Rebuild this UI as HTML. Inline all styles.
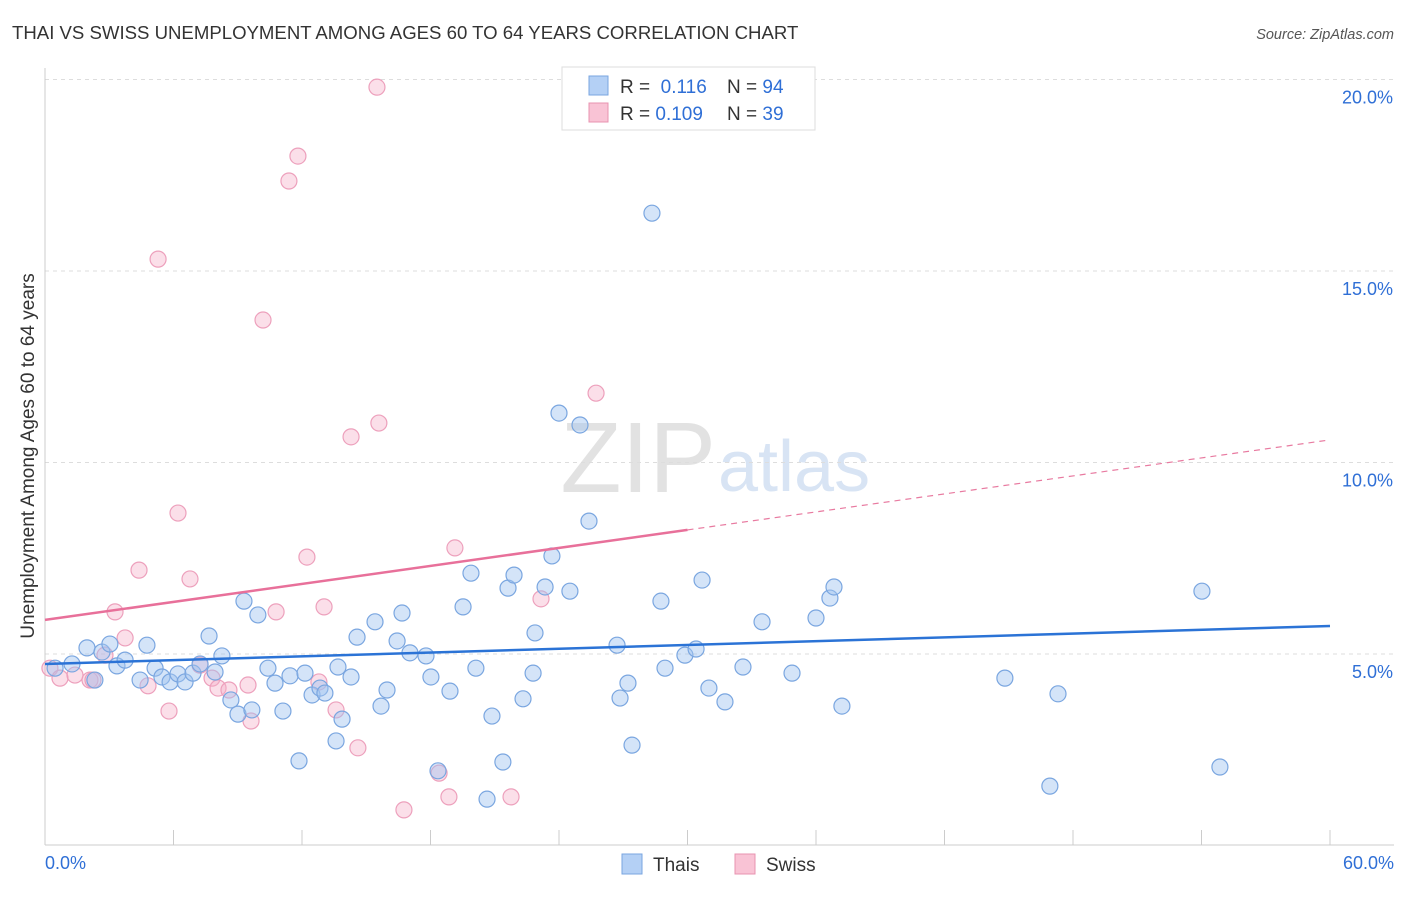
<!DOCTYPE html>
<html><head><meta charset="utf-8">
<style>
body{margin:0;background:#fff;font-family:"Liberation Sans",sans-serif;}
svg text{font-family:"Liberation Sans",sans-serif;}
</style></head>
<body>
<svg id="chart" width="1406" height="892">
<text x="12" y="39" font-size="18.6" fill="#333">THAI VS SWISS UNEMPLOYMENT AMONG AGES 60 TO 64 YEARS CORRELATION CHART</text>
<text x="1394" y="39" font-size="14.5" fill="#555" font-style="italic" text-anchor="end">Source: ZipAtlas.com</text>
<text x="716" y="492" font-size="100" fill="#e2e2e2" text-anchor="end" font-family="Liberation Serif">ZIP</text>
<text x="718" y="491" font-size="72" fill="#d8e4f4">atlas</text>
<g id="grid"></g>
<g id="axes"></g>
<g id="marks"></g>
<text transform="translate(34,456) rotate(-90)" font-size="19" fill="#333" text-anchor="middle">Unemployment Among Ages 60 to 64 years</text>
<g>
<rect x="562" y="67" width="253" height="63" fill="#fff" stroke="#ddd"/>
<rect x="589" y="76" width="19" height="19" fill="#b4d0f5" stroke="#7aa6e0"/>
<rect x="589" y="103" width="19" height="19" fill="#f9c3d5" stroke="#e893b0"/>
<text x="620" y="93" font-size="19" fill="#333">R = <tspan fill="#2f6fd6">&#160;0.116</tspan><tspan x="727">N = </tspan><tspan fill="#2f6fd6">94</tspan></text>
<text x="620" y="120" font-size="19" fill="#333">R = <tspan fill="#2f6fd6">0.109</tspan><tspan x="727">N = </tspan><tspan fill="#2f6fd6">39</tspan></text>
</g>
<g>
<rect x="622" y="854" width="20" height="20" fill="#b4d0f5" stroke="#7aa6e0"/>
<text x="653" y="871" font-size="19" fill="#333">Thais</text>
<rect x="735" y="854" width="20" height="20" fill="#f9c3d5" stroke="#e893b0"/>
<text x="766" y="871" font-size="19" fill="#333">Swiss</text>
</g>
</svg>
<script>
const yTicks=[5,10,15,20];
const yTickLabels=["5.0%","10.0%","15.0%","20.0%"];
const xTicks=[0,6,12,18,24,30,36,42,48,54,60];
const thaisX=[0.47,1.26,1.96,2.33,2.66,3.03,3.36,3.74,4.44,4.76,5.14,5.46,5.84,6.21,6.54,6.91,7.24,7.66,7.94,8.26,8.68,9.01,9.29,9.66,9.94,10.41,10.74,11.11,11.44,11.86,12.14,12.47,12.84,13.07,13.68,13.87,13.59,14.29,14.57,15.41,15.69,15.97,16.44,16.67,17.04,17.79,18.02,18.91,19.52,19.89,20.12,20.87,21.38,20.64,21.62,21.90,22.32,22.79,22.88,23.35,23.67,24.00,24.51,24.98,25.40,26.71,26.85,27.22,27.41,28.34,28.76,28.95,29.88,30.40,30.68,31.00,31.75,32.59,33.48,34.88,36.00,36.65,36.84,37.21,44.82,46.92,47.30,54.02,54.86,18.35];
const thaisY=[4.63,4.74,5.16,4.32,5.05,5.26,4.69,4.84,4.32,5.23,4.63,4.40,4.27,4.48,4.27,4.50,4.74,5.47,4.53,4.95,3.80,3.43,6.38,3.54,6.02,4.63,4.24,3.51,4.43,2.21,4.50,3.93,4.11,3.98,4.66,3.30,2.73,4.40,5.44,5.84,3.64,4.06,5.34,6.07,5.03,4.95,4.40,4.03,6.23,7.11,4.63,3.38,2.18,1.21,6.72,7.06,3.83,4.50,5.55,6.75,7.56,11.29,6.64,10.98,8.47,5.23,3.85,4.24,2.62,16.51,6.38,4.63,4.97,5.13,6.93,4.11,3.75,4.66,5.84,4.50,5.94,6.46,6.75,3.64,4.37,1.55,3.96,6.64,2.05,1.95];
const swissX=[0.23,0.70,1.40,2.10,2.80,3.27,3.74,4.39,4.81,5.28,5.79,6.21,6.77,7.24,7.80,8.08,8.59,9.48,9.62,10.18,10.79,11.39,11.81,12.23,12.79,13.03,13.59,14.29,14.61,15.50,15.59,16.76,18.40,18.86,19.14,21.76,23.16,25.73,2.24];
const swissY=[4.63,4.37,4.45,4.32,4.97,6.10,5.42,7.19,4.17,15.31,3.51,8.68,6.96,4.71,4.37,4.11,4.06,4.19,3.25,13.72,6.10,17.35,18.00,7.53,4.27,6.23,3.54,10.67,2.55,19.80,11.03,0.93,1.89,1.27,7.77,1.27,6.44,11.81,4.32];
const thaisTrend=[4.74,5.73];
const swissTrend=[5.89,10.59];
const swissSolidEnd=30;

const NS="http://www.w3.org/2000/svg";
const X=v=>45+v*(1285/60);
const Y=v=>845.5-v*38.3;
function mk(tag,attrs,parent){const e=document.createElementNS(NS,tag);for(const k in attrs)e.setAttribute(k,attrs[k]);parent.appendChild(e);return e;}
const grid=document.getElementById('grid'),axes=document.getElementById('axes'),marks=document.getElementById('marks');
yTicks.forEach((t,i)=>{
 const l=mk('line',{x1:45,x2:1394,y1:Y(t),y2:Y(t),stroke:'#ddd','stroke-dasharray':'4,4'},grid);
 
 
 const tx=mk('text',{x:1393,y:Y(t)+24,'font-size':18,fill:'#2f6fd6','text-anchor':'end'},axes);
 tx.textContent=yTickLabels[i];
 
 
});
const ax=mk('line',{x1:45,x2:1394,y1:845,y2:845,stroke:'#ccc'},axes);


const ay=mk('line',{x1:45,x2:45,y1:68,y2:845,stroke:'#ccc'},axes);


xTicks.forEach(t=>{
 const l=mk('line',{x1:X(t),x2:X(t),y1:830,y2:845,stroke:'#ccc'},axes);
 
 
});
const xl0=mk('text',{x:45,y:869,'font-size':18,fill:'#2f6fd6'},axes);xl0.textContent='0.0%';


const xl1=mk('text',{x:1394,y:869,'font-size':18,fill:'#2f6fd6','text-anchor':'end'},axes);xl1.textContent='60.0%';



swissX.forEach((x,i)=>{
 const c=mk('circle',{cx:X(x),cy:Y(swissY[i]),r:8,fill:'rgba(246,176,200,0.4)',stroke:'#eda0bc','stroke-width':1.2},marks);
 
 
});
thaisX.forEach((x,i)=>{
 const c=mk('circle',{cx:X(x),cy:Y(thaisY[i]),r:8,fill:'rgba(160,196,240,0.45)',stroke:'#7aa6e0','stroke-width':1.2},marks);
 
 
});
const swissAt=x=>swissTrend[0]+(swissTrend[1]-swissTrend[0])*x/60;
const sd=mk('line',{x1:X(swissSolidEnd),y1:Y(swissAt(swissSolidEnd)),x2:X(60),y2:Y(swissTrend[1]),stroke:'#e87aa0','stroke-width':1.2,'stroke-dasharray':'6,5'},marks);


const ss=mk('line',{x1:X(0),y1:Y(swissTrend[0]),x2:X(swissSolidEnd),y2:Y(swissAt(swissSolidEnd)),stroke:'#e8709a','stroke-width':2.5},marks);


const tl=mk('line',{x1:X(0),y1:Y(thaisTrend[0]),x2:X(60),y2:Y(thaisTrend[1]),stroke:'#2b73d6','stroke-width':2.5},marks);


</script>
</body></html>
